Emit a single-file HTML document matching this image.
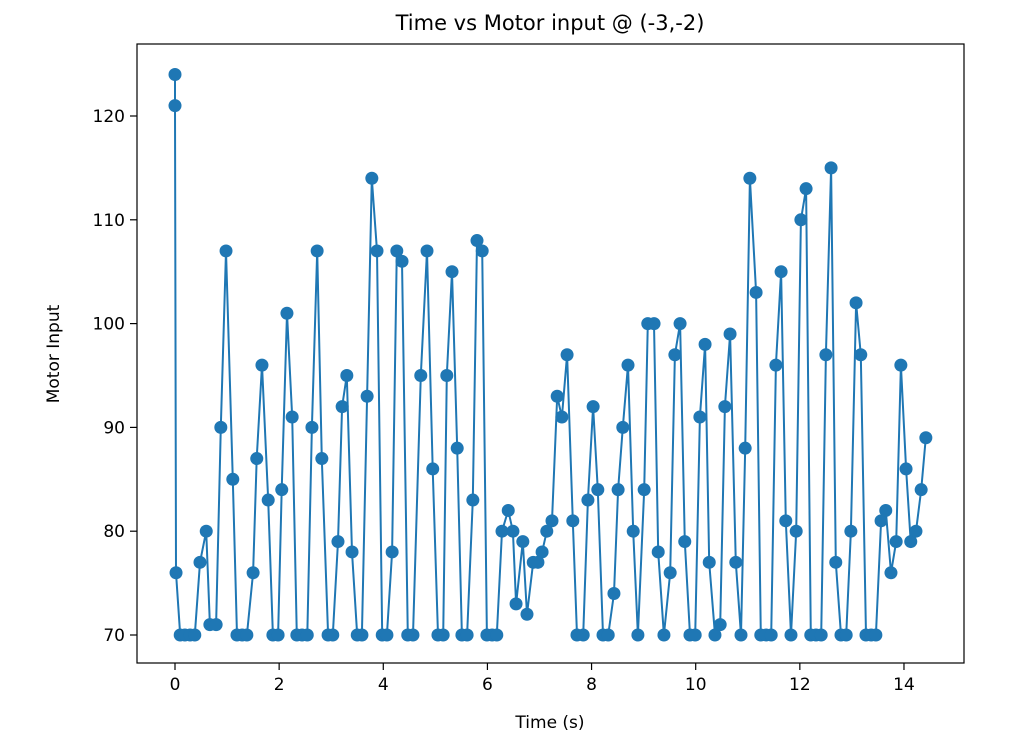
<!DOCTYPE html>
<html><head><meta charset="utf-8"><style>
body{margin:0;background:#fff;font-family:"Liberation Sans","DejaVu Sans",sans-serif}
</style></head><body>
<svg id="chart" width="1014" height="749" xmlns="http://www.w3.org/2000/svg" font-family="DejaVu Sans, Liberation Sans, sans-serif">
<rect width="1014" height="749" fill="#fff"/>
<text x="550" y="30" text-anchor="middle" font-size="21" fill="#000">Time vs Motor input @ (-3,-2)</text>
<text x="550" y="728" text-anchor="middle" font-size="17" fill="#000">Time (s)</text>
<text transform="translate(59,354) rotate(-90)" text-anchor="middle" font-size="17" fill="#000">Motor Input</text>
<g id="ticks"></g>
<g id="series"></g>
<rect x="137" y="44" width="827" height="619" fill="none" stroke="#000" stroke-width="1.2"/>
</svg>
<script>
const xTicks=[0,2,4,6,8,10,12,14];
const yTicks=[70,80,90,100,110,120];
const times=[0,0,0.02,0.10,0.19,0.29,0.38,0.48,0.60,0.67,0.79,0.88,0.98,1.11,1.19,1.29,1.38,1.50,1.57,1.67,1.79,1.88,1.98,2.05,2.15,2.25,2.34,2.44,2.54,2.63,2.73,2.82,2.94,3.03,3.13,3.21,3.30,3.40,3.50,3.59,3.69,3.78,3.88,3.98,4.07,4.17,4.26,4.36,4.47,4.57,4.72,4.84,4.95,5.05,5.15,5.22,5.32,5.42,5.51,5.61,5.72,5.80,5.90,5.99,6.09,6.18,6.28,6.40,6.49,6.55,6.68,6.76,6.88,6.97,7.05,7.14,7.24,7.34,7.43,7.53,7.64,7.72,7.84,7.93,8.03,8.12,8.22,8.32,8.43,8.51,8.60,8.70,8.80,8.89,9.01,9.08,9.20,9.28,9.39,9.51,9.60,9.70,9.79,9.89,9.99,10.08,10.18,10.26,10.37,10.47,10.56,10.66,10.77,10.87,10.95,11.04,11.16,11.25,11.35,11.45,11.54,11.64,11.73,11.83,11.93,12.02,12.12,12.21,12.31,12.41,12.50,12.60,12.69,12.79,12.89,12.98,13.08,13.17,13.27,13.37,13.46,13.56,13.65,13.75,13.85,13.94,14.04,14.13,14.23,14.33,14.42];
const motorInput=[124,121,76,70,70,70,70,77,80,71,71,90,107,85,70,70,70,76,87,96,83,70,70,84,101,91,70,70,70,90,107,87,70,70,79,92,95,78,70,70,93,114,107,70,70,78,107,106,70,70,95,107,86,70,70,95,105,88,70,70,83,108,107,70,70,70,80,82,80,73,79,72,77,77,78,80,81,93,91,97,81,70,70,83,92,84,70,70,74,84,90,96,80,70,84,100,100,78,70,76,97,100,79,70,70,91,98,77,70,71,92,99,77,70,88,114,103,70,70,70,96,105,81,70,80,110,113,70,70,70,97,115,77,70,70,80,102,97,70,70,70,81,82,76,79,96,86,79,80,84,89];
const NS="http://www.w3.org/2000/svg";
const X=t=>175+t*52.07;
const Y=v=>635-(v-70)*10.38;
const tg=document.getElementById('ticks');
function mk(tag,attrs,parent){const e=document.createElementNS(NS,tag);for(const k in attrs)e.setAttribute(k,attrs[k]);parent.appendChild(e);return e;}
xTicks.forEach(t=>{
  const l=mk('line',{x1:X(t),x2:X(t),y1:663,y2:670,stroke:'#000','stroke-width':1.2},tg);
  
  
  const s=mk('text',{x:X(t),y:690,'text-anchor':'middle','font-size':17},tg);
  
  
  s.textContent=t;
});
yTicks.forEach(v=>{
  const l=mk('line',{x1:130,x2:137,y1:Y(v),y2:Y(v),stroke:'#000','stroke-width':1.2},tg);
  
  
  const s=mk('text',{x:125,y:Y(v)+6,'text-anchor':'end','font-size':17},tg);
  
  
  s.textContent=v;
});
const sg=document.getElementById('series');
const pts=times.map((t,i)=>X(t).toFixed(1)+','+Y(motorInput[i]).toFixed(1)).join(' ');
const pl=mk('polyline',{points:pts,fill:'none',stroke:'#1f77b4','stroke-width':2,'stroke-linejoin':'round'},sg);


times.forEach((t,i)=>{
  const c=mk('circle',{cx:X(t),cy:Y(motorInput[i]),r:6.5,fill:'#1f77b4'},sg);
  
  
});
</script>
</body></html>
